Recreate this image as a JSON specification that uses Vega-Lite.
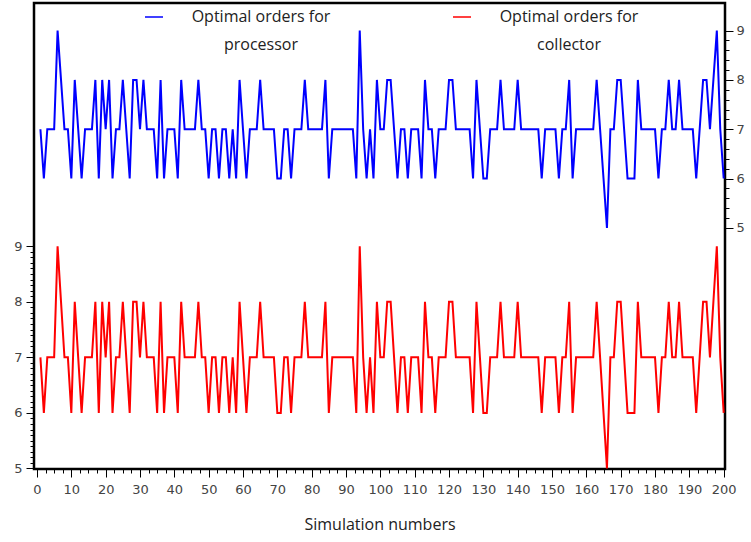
{
  "$schema": "https://vega.github.io/schema/vega-lite/v6.json",
  "width": 691,
  "height": 466,
  "autosize": {"type": "none"},
  "padding": {"left": 34, "top": 3, "right": 26, "bottom": 73},
  "background": "white",
  "config": {
    "view": {"stroke": "#000000", "strokeWidth": 2.5},
    "style": {"guide-label": {"lineHeight": 28}}
  },
  "data": {"values": [
    {"n":1,"processor":7,"collector":7},{"n":2,"processor":6,"collector":6},{"n":3,"processor":7,"collector":7},{"n":4,"processor":7,"collector":7},{"n":5,"processor":7,"collector":7},
    {"n":6,"processor":9,"collector":9},{"n":7,"processor":8,"collector":8},{"n":8,"processor":7,"collector":7},{"n":9,"processor":7,"collector":7},{"n":10,"processor":6,"collector":6},
    {"n":11,"processor":8,"collector":8},{"n":12,"processor":7,"collector":7},{"n":13,"processor":6,"collector":6},{"n":14,"processor":7,"collector":7},{"n":15,"processor":7,"collector":7},
    {"n":16,"processor":7,"collector":7},{"n":17,"processor":8,"collector":8},{"n":18,"processor":6,"collector":6},{"n":19,"processor":8,"collector":8},{"n":20,"processor":7,"collector":7},
    {"n":21,"processor":8,"collector":8},{"n":22,"processor":6,"collector":6},{"n":23,"processor":7,"collector":7},{"n":24,"processor":7,"collector":7},{"n":25,"processor":8,"collector":8},
    {"n":26,"processor":7,"collector":7},{"n":27,"processor":6,"collector":6},{"n":28,"processor":8,"collector":8},{"n":29,"processor":8,"collector":8},{"n":30,"processor":7,"collector":7},
    {"n":31,"processor":8,"collector":8},{"n":32,"processor":7,"collector":7},{"n":33,"processor":7,"collector":7},{"n":34,"processor":7,"collector":7},{"n":35,"processor":6,"collector":6},
    {"n":36,"processor":8,"collector":8},{"n":37,"processor":6,"collector":6},{"n":38,"processor":7,"collector":7},{"n":39,"processor":7,"collector":7},{"n":40,"processor":7,"collector":7},
    {"n":41,"processor":6,"collector":6},{"n":42,"processor":8,"collector":8},{"n":43,"processor":7,"collector":7},{"n":44,"processor":7,"collector":7},{"n":45,"processor":7,"collector":7},
    {"n":46,"processor":7,"collector":7},{"n":47,"processor":8,"collector":8},{"n":48,"processor":7,"collector":7},{"n":49,"processor":7,"collector":7},{"n":50,"processor":6,"collector":6},
    {"n":51,"processor":7,"collector":7},{"n":52,"processor":7,"collector":7},{"n":53,"processor":6,"collector":6},{"n":54,"processor":7,"collector":7},{"n":55,"processor":7,"collector":7},
    {"n":56,"processor":6,"collector":6},{"n":57,"processor":7,"collector":7},{"n":58,"processor":6,"collector":6},{"n":59,"processor":8,"collector":8},{"n":60,"processor":7,"collector":7},
    {"n":61,"processor":6,"collector":6},{"n":62,"processor":7,"collector":7},{"n":63,"processor":7,"collector":7},{"n":64,"processor":7,"collector":7},{"n":65,"processor":8,"collector":8},
    {"n":66,"processor":7,"collector":7},{"n":67,"processor":7,"collector":7},{"n":68,"processor":7,"collector":7},{"n":69,"processor":7,"collector":7},{"n":70,"processor":6,"collector":6},
    {"n":71,"processor":6,"collector":6},{"n":72,"processor":7,"collector":7},{"n":73,"processor":7,"collector":7},{"n":74,"processor":6,"collector":6},{"n":75,"processor":7,"collector":7},
    {"n":76,"processor":7,"collector":7},{"n":77,"processor":7,"collector":7},{"n":78,"processor":8,"collector":8},{"n":79,"processor":7,"collector":7},{"n":80,"processor":7,"collector":7},
    {"n":81,"processor":7,"collector":7},{"n":82,"processor":7,"collector":7},{"n":83,"processor":7,"collector":7},{"n":84,"processor":8,"collector":8},{"n":85,"processor":6,"collector":6},
    {"n":86,"processor":7,"collector":7},{"n":87,"processor":7,"collector":7},{"n":88,"processor":7,"collector":7},{"n":89,"processor":7,"collector":7},{"n":90,"processor":7,"collector":7},
    {"n":91,"processor":7,"collector":7},{"n":92,"processor":7,"collector":7},{"n":93,"processor":6,"collector":6},{"n":94,"processor":9,"collector":9},{"n":95,"processor":7,"collector":7},
    {"n":96,"processor":6,"collector":6},{"n":97,"processor":7,"collector":7},{"n":98,"processor":6,"collector":6},{"n":99,"processor":8,"collector":8},{"n":100,"processor":7,"collector":7},
    {"n":101,"processor":7,"collector":7},{"n":102,"processor":8,"collector":8},{"n":103,"processor":8,"collector":8},{"n":104,"processor":7,"collector":7},{"n":105,"processor":6,"collector":6},
    {"n":106,"processor":7,"collector":7},{"n":107,"processor":7,"collector":7},{"n":108,"processor":6,"collector":6},{"n":109,"processor":7,"collector":7},{"n":110,"processor":7,"collector":7},
    {"n":111,"processor":7,"collector":7},{"n":112,"processor":6,"collector":6},{"n":113,"processor":8,"collector":8},{"n":114,"processor":7,"collector":7},{"n":115,"processor":7,"collector":7},
    {"n":116,"processor":6,"collector":6},{"n":117,"processor":7,"collector":7},{"n":118,"processor":7,"collector":7},{"n":119,"processor":7,"collector":7},{"n":120,"processor":8,"collector":8},
    {"n":121,"processor":8,"collector":8},{"n":122,"processor":7,"collector":7},{"n":123,"processor":7,"collector":7},{"n":124,"processor":7,"collector":7},{"n":125,"processor":7,"collector":7},
    {"n":126,"processor":7,"collector":7},{"n":127,"processor":6,"collector":6},{"n":128,"processor":8,"collector":8},{"n":129,"processor":7,"collector":7},{"n":130,"processor":6,"collector":6},
    {"n":131,"processor":6,"collector":6},{"n":132,"processor":7,"collector":7},{"n":133,"processor":7,"collector":7},{"n":134,"processor":7,"collector":7},{"n":135,"processor":8,"collector":8},
    {"n":136,"processor":7,"collector":7},{"n":137,"processor":7,"collector":7},{"n":138,"processor":7,"collector":7},{"n":139,"processor":7,"collector":7},{"n":140,"processor":8,"collector":8},
    {"n":141,"processor":7,"collector":7},{"n":142,"processor":7,"collector":7},{"n":143,"processor":7,"collector":7},{"n":144,"processor":7,"collector":7},{"n":145,"processor":7,"collector":7},
    {"n":146,"processor":7,"collector":7},{"n":147,"processor":6,"collector":6},{"n":148,"processor":7,"collector":7},{"n":149,"processor":7,"collector":7},{"n":150,"processor":7,"collector":7},
    {"n":151,"processor":7,"collector":7},{"n":152,"processor":6,"collector":6},{"n":153,"processor":7,"collector":7},{"n":154,"processor":7,"collector":7},{"n":155,"processor":8,"collector":8},
    {"n":156,"processor":6,"collector":6},{"n":157,"processor":7,"collector":7},{"n":158,"processor":7,"collector":7},{"n":159,"processor":7,"collector":7},{"n":160,"processor":7,"collector":7},
    {"n":161,"processor":7,"collector":7},{"n":162,"processor":7,"collector":7},{"n":163,"processor":8,"collector":8},{"n":164,"processor":7,"collector":7},{"n":165,"processor":6,"collector":6},
    {"n":166,"processor":5,"collector":5},{"n":167,"processor":7,"collector":7},{"n":168,"processor":7,"collector":7},{"n":169,"processor":8,"collector":8},{"n":170,"processor":8,"collector":8},
    {"n":171,"processor":7,"collector":7},{"n":172,"processor":6,"collector":6},{"n":173,"processor":6,"collector":6},{"n":174,"processor":6,"collector":6},{"n":175,"processor":8,"collector":8},
    {"n":176,"processor":7,"collector":7},{"n":177,"processor":7,"collector":7},{"n":178,"processor":7,"collector":7},{"n":179,"processor":7,"collector":7},{"n":180,"processor":7,"collector":7},
    {"n":181,"processor":6,"collector":6},{"n":182,"processor":7,"collector":7},{"n":183,"processor":7,"collector":7},{"n":184,"processor":8,"collector":8},{"n":185,"processor":7,"collector":7},
    {"n":186,"processor":7,"collector":7},{"n":187,"processor":8,"collector":8},{"n":188,"processor":7,"collector":7},{"n":189,"processor":7,"collector":7},{"n":190,"processor":7,"collector":7},
    {"n":191,"processor":7,"collector":7},{"n":192,"processor":6,"collector":6},{"n":193,"processor":7,"collector":7},{"n":194,"processor":8,"collector":8},{"n":195,"processor":8,"collector":8},
    {"n":196,"processor":7,"collector":7},{"n":197,"processor":8,"collector":8},{"n":198,"processor":9,"collector":9},{"n":199,"processor":7,"collector":7},{"n":200,"processor":6,"collector":6}
  ]},
  "encoding": {
    "x": {
      "field": "n", "type": "quantitative",
      "scale": {"domain": [-0.87, 200.38], "nice": false, "zero": false},
      "axis": {
        "values": [0,2.5,5,7.5,10,12.5,15,17.5,20,22.5,25,27.5,30,32.5,35,37.5,40,42.5,45,47.5,50,52.5,55,57.5,60,62.5,65,67.5,70,72.5,75,77.5,80,82.5,85,87.5,90,92.5,95,97.5,100,102.5,105,107.5,110,112.5,115,117.5,120,122.5,125,127.5,130,132.5,135,137.5,140,142.5,145,147.5,150,152.5,155,157.5,160,162.5,165,167.5,170,172.5,175,177.5,180,182.5,185,187.5,190,192.5,195,197.5,200],
        "labelExpr": "datum.value % 10 === 0 ? format(datum.value, 'd') : ''",
        "tickSize": {"condition": {"test": "datum.value % 10 === 0", "value": 8}, "value": 4},
        "domain": false, "grid": false,
        "tickColor": "#000000", "tickWidth": 1,
        "labelFont": "DejaVu Sans", "labelFontSize": 13, "labelColor": "#444444",
        "labelPadding": 6, "labelOverlap": false, "labelFlush": false,
        "title": "Simulation numbers",
        "titleFont": "Open Sans", "titleFontSize": 16, "titleFontWeight": "normal",
        "titleColor": "#222222", "titlePadding": 20
      }
    }
  },
  "layer": [
    {
      "mark": {"type": "line", "strokeWidth": 2, "interpolate": "linear"},
      "encoding": {
        "y": {
          "field": "collector", "type": "quantitative",
          "scale": {"domain": [4.99, 13.38], "nice": false, "zero": false},
          "axis": {
            "orient": "left",
            "values": [5,5.1,5.2,5.3,5.4,5.5,5.6,5.7,5.8,5.9,6,6.1,6.2,6.3,6.4,6.5,6.6,6.7,6.8,6.9,7,7.1,7.2,7.3,7.4,7.5,7.6,7.7,7.8,7.9,8,8.1,8.2,8.3,8.4,8.5,8.6,8.7,8.8,8.9,9],
            "labelExpr": "datum.value % 1 === 0 ? format(datum.value, 'd') : ''",
            "tickSize": {"condition": {"test": "datum.value % 1 === 0", "value": 8}, "value": 4},
            "domain": false, "grid": false, "title": null,
            "tickColor": "#000000", "tickWidth": 1,
            "labelFont": "DejaVu Sans", "labelFontSize": 13, "labelColor": "#444444",
            "labelPadding": 4, "labelOverlap": false, "labelFlush": false
          }
        },
        "color": {
          "datum": "collector", "type": "nominal",
          "scale": {"domain": ["processor", "collector"], "range": ["#0000ff", "#ff0000"]},
          "legend": {
            "orient": "none", "legendX": 110, "legendY": 4,
            "direction": "horizontal", "columns": 2, "columnPadding": 119,
            "title": null, "padding": 0,
            "symbolType": "stroke", "symbolSize": 324, "symbolStrokeWidth": 1.5,
            "labelExpr": "datum.label === 'processor' ? ['Optimal orders for', 'processor'] : ['Optimal orders for', 'collector']",
            "labelAlign": "center", "labelBaseline": "middle", "labelOffset": 97,
            "labelFont": "Open Sans", "labelFontSize": 16, "labelColor": "#222222", "labelLimit": 0
          }
        }
      }
    },
    {
      "mark": {"type": "line", "strokeWidth": 2, "interpolate": "linear"},
      "encoding": {
        "y": {
          "field": "processor", "type": "quantitative",
          "scale": {"domain": [0.11, 9.56], "nice": false, "zero": false},
          "axis": {
            "orient": "right",
            "values": [5,5.2,5.4,5.6,5.8,6,6.2,6.4,6.6,6.8,7,7.2,7.4,7.6,7.8,8,8.2,8.4,8.6,8.8,9],
            "labelExpr": "datum.value % 1 === 0 ? format(datum.value, 'd') : ''",
            "tickSize": {"condition": {"test": "datum.value % 1 === 0", "value": 8}, "value": 4},
            "domain": false, "grid": false, "title": null,
            "tickColor": "#000000", "tickWidth": 1,
            "labelFont": "DejaVu Sans", "labelFontSize": 13, "labelColor": "#444444",
            "labelPadding": 3, "labelOverlap": false, "labelFlush": false
          }
        },
        "color": {"datum": "processor", "type": "nominal"}
      }
    }
  ],
  "resolve": {"scale": {"y": "independent"}, "axis": {"y": "independent"}}
}
